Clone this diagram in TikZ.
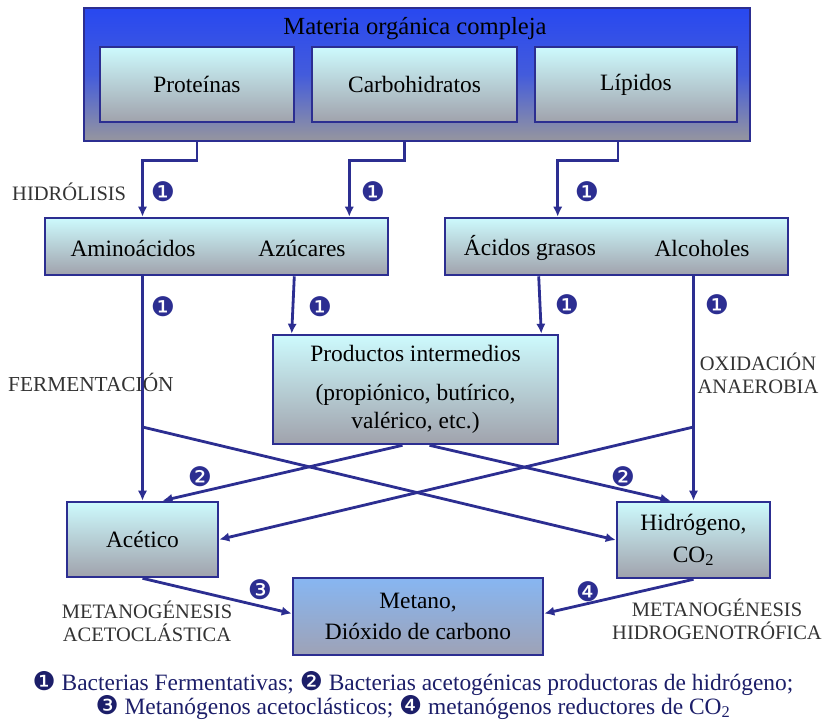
\documentclass[tikz,border=0pt]{standalone}
\usepackage{fontspec}
\setmainfont{Liberation Serif}
\newfontfamily\dingfont{DejaVu Sans}
\usepackage{tikz}
\usetikzlibrary{arrows.meta, positioning, calc}

\definecolor{navy}{RGB}{44,46,145}
\definecolor{legendblue}{RGB}{28,30,105}
\definecolor{boxtop}{RGB}{205,250,253}
\definecolor{boxbot}{RGB}{160,162,172}
\definecolor{outtop}{RGB}{40,72,240}
\definecolor{outbot}{RGB}{150,150,158}
\definecolor{metatop}{RGB}{135,182,242}
\definecolor{metabot}{RGB}{158,162,182}

\begin{document}
\begin{tikzpicture}[x=0.03cm, y=-0.03cm,
    box/.style={rectangle, draw=navy, line width=2.2pt, top color=boxtop, bottom color=boxbot, align=center, font=\fontsize{20}{24}\selectfont},
    outer/.style={box, top color=outtop, bottom color=outbot, middle color=outtop!75!outbot},
    metabox/.style={box, top color=metatop, bottom color=metabot},
    word/.style={font=\fontsize{20}{24}\selectfont, inner sep=0pt},
    arrow/.style={draw=navy, line width=2.4pt, -{Latex[length=3mm, width=2.8mm]}},
    badge/.style={font=\dingfont\fontsize{23}{23}\selectfont, text=navy, inner sep=0pt},
    lbl/.style={font=\fontsize{17.5}{19.8}\selectfont, text=black!80, align=center, inner sep=0pt},
    legend/.style={font=\fontsize{20}{20.5}\selectfont, text=legendblue, inner sep=0pt}
]
\useasboundingbox (0,0) rectangle (825,726);

% Materia organica
\node[outer, minimum width=19.98cm, minimum height=3.99cm] (mat) at (417,74.5) {};
\node[word, font=\fontsize{21}{24}\selectfont] (titulo) at (415,29) {Materia orgánica compleja};
\node[box, minimum width=5.82cm, minimum height=2.25cm] (prot) at (197,84.5) {Proteínas};
\node[box, minimum width=6.15cm, minimum height=2.25cm] (carb) at (414.5,84.5) {Carbohidratos};
\node[box, minimum width=6.06cm, minimum height=2.25cm] (lip) at (636,84.5) {Lípidos};

% Monomeros
\node[box, minimum width=10.29cm, minimum height=1.71cm] (aaaz) at (216.5,246.5) {};
\node[word] (amino) at (133,248) {Aminoácidos};
\node[word] (azuc) at (302,248) {Azúcares};
\node[box, minimum width=10.29cm, minimum height=1.71cm] (agal) at (616.5,246.5) {};
\node[word] (acgras) at (530,248) {Ácidos grasos};
\node[word] (alcoh) at (702,248) {Alcoholes};

% Intermedios y productos
\node[box, minimum width=8.55cm, minimum height=3.27cm] (prod) at (415.5,389.5) {Productos intermedios\\[9pt](propiónico, butírico,\\valérico, etc.)};
\node[box, minimum width=4.53cm, minimum height=2.25cm] (acet) at (142.5,539.5) {Acético};
\node[box, minimum width=4.59cm, minimum height=2.28cm] (hidr) at (693.5,540) {Hidrógeno,\\[3pt]CO\textsubscript{2}};
\node[metabox, minimum width=7.5cm, minimum height=2.31cm] (meta) at (418,616.5) {Metano,\\[2pt]Dióxido de carbono};

% Hidrolisis
\draw[arrow] (prot.south |- mat.south) -- ++(0,18) -| (acet.north |- aaaz.north);
\draw[arrow] ($(carb.south |- mat.south)+(-10,0)$) -- ++(0,18) -| ($(aaaz.north east)+(-40,0)$);
\draw[arrow] ($(lip.south |- mat.south)+(-18,0)$) -- ++(0,18) -| ($(agal.north west)+(114,0)$);

% Fermentacion y oxidacion
\coordinate (fsplit) at (142.5,427);
\coordinate (osplit) at (693.5,427);
\draw[arrow] (acet.north |- aaaz.south) -- (acet.north);
\draw[arrow] ($(aaaz.south east)+(-95,0)$) -- ($(prod.north west)+(20,0)$);
\draw[arrow] ($(agal.south west)+(95,0)$) -- ($(prod.north east)+(-18,0)$);
\draw[arrow] (hidr.north |- agal.south) -- (hidr.north);
\draw[arrow] (fsplit) -- (hidr.west);
\draw[arrow] (osplit) -- (acet.east);
\draw[arrow] ($(prod.south)+(-13,0)$) -- ($(acet.north)+(20,0)$);
\draw[arrow] ($(prod.south)+(14,0)$) -- ($(hidr.north)+(-23,0)$);

% Metanogenesis
\draw[arrow] (acet.south) -- ($(meta.west)+(0,-3)$);
\draw[arrow] (hidr.south) -- ($(meta.east)+(0,-3)$);

% Numeros
\node[badge] (n1a) at (163,192) {❶};
\node[badge] (n1b) at (373,192) {❶};
\node[badge] (n1c) at (587,192) {❶};
\node[badge] (n1d) at (163,307) {❶};
\node[badge] (n1e) at (320,307) {❶};
\node[badge] (n1f) at (567,305) {❶};
\node[badge] (n1g) at (717,305) {❶};
\node[badge] (n2a) at (200,477) {❷};
\node[badge] (n2b) at (623,477) {❷};
\node[badge] (n3) at (260,590) {❸};
\node[badge] (n4) at (588,592) {❹};

% Etiquetas
\node[lbl, anchor=west] (hidrol) at (12,192) {HIDRÓLISIS};
\node[lbl, anchor=west, font=\fontsize{18.2}{19.8}\selectfont] (ferm) at (8,382) {FERMENTACIÓN};
\node[lbl] (oxid) at (758,373) {OXIDACIÓN\\ANAEROBIA};
\node[lbl] (acetocl) at (147,621) {METANOGÉNESIS\\ACETOCLÁSTICA};
\node[lbl] (hidrotr) at (717,619) {METANOGÉNESIS\\HIDROGENOTRÓFICA};

% Leyenda
\node[legend] (leg1) at (413,683) {{\dingfont\fontsize{22}{20}\selectfont\color{legendblue}❶} Bacterias Fermentativas; {\dingfont\fontsize{22}{20}\selectfont\color{legendblue}❷} Bacterias acetogénicas productoras de hidrógeno;};
\node[legend] (leg2) at (413,707) {{\dingfont\fontsize{22}{20}\selectfont\color{legendblue}❸} Metanógenos acetoclásticos; {\dingfont\fontsize{22}{20}\selectfont\color{legendblue}❹} metanógenos reductores de CO\textsubscript{2}};

\end{tikzpicture}
\end{document}
